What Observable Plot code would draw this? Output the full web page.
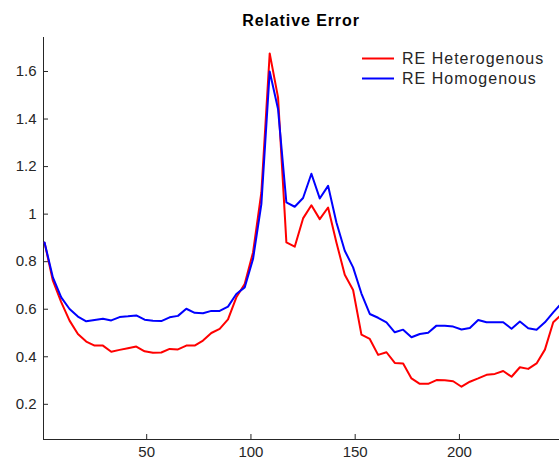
<!DOCTYPE html>
<html><head><meta charset="utf-8">
<script src="https://cdn.jsdelivr.net/npm/d3@7"></script>
<script src="https://cdn.jsdelivr.net/npm/@observablehq/plot@0.6"></script>
<style>
body{margin:0;background:#fff;}
#wrap{position:relative;width:559px;height:459px;font-family:"Liberation Sans",Arial,Helvetica,sans-serif;}
#overlay{position:absolute;left:0;top:0;pointer-events:none;}
</style></head><body><div id="wrap"></div>
<script>
const titleText = "Relative Error";
const seriesNames = ["RE Heterogenous", "RE Homogenous"];
const seriesColors = ["#ff0000", "#0000ff"];
const xTicks = [50, 100, 150, 200];
const yTicks = [0.2, 0.4, 0.6, 0.8, 1, 1.2, 1.4, 1.6];
const xs = [1,5,9,13,17,21,25,29,33,37,41,45,49,53,57,61,65,69,73,77,81,85,89,93,97,101,105,109,113,117,121,125,129,133,137,141,145,149,153,157,161,165,169,173,177,181,185,189,193,197,201,205,209,213,217,221,225,229,233,237,241,245,249];
const reHetero = [0.88,0.72,0.63,0.552,0.496,0.464,0.447,0.447,0.421,0.429,0.436,0.443,0.423,0.417,0.418,0.433,0.431,0.447,0.447,0.468,0.500,0.517,0.557,0.650,0.706,0.839,1.091,1.676,1.491,0.881,0.863,0.982,1.037,0.979,1.028,0.881,0.745,0.681,0.493,0.475,0.408,0.419,0.374,0.372,0.309,0.286,0.286,0.302,0.301,0.297,0.274,0.295,0.309,0.324,0.328,0.340,0.316,0.356,0.349,0.372,0.430,0.545,0.578];
const reHomo = [0.881,0.734,0.65,0.601,0.569,0.549,0.555,0.560,0.553,0.567,0.570,0.574,0.556,0.552,0.550,0.566,0.572,0.602,0.585,0.583,0.593,0.593,0.611,0.664,0.692,0.811,1.042,1.600,1.442,1.049,1.031,1.068,1.170,1.066,1.119,0.965,0.846,0.776,0.666,0.580,0.564,0.545,0.503,0.514,0.482,0.496,0.501,0.531,0.530,0.527,0.515,0.521,0.555,0.545,0.545,0.545,0.518,0.548,0.520,0.514,0.545,0.587,0.625];

const data = [];
const seriesValues = [reHetero, reHomo];
seriesNames.forEach((name, j) => {
  xs.forEach((x, i) => data.push({x, y: seriesValues[j][i], s: name}));
});

const axisColor = "#262626";
const xDomain = [0.5, 248];
const yDomain = [0.052, 1.743];
const plot = Plot.plot({
  width: 559, height: 459,
  marginLeft: 43, marginRight: 0, marginTop: 37, marginBottom: 20,
  style: {fontFamily: '"Liberation Sans", Arial, Helvetica, sans-serif', fontSize: "15px", color: axisColor, background: "white", overflow: "visible"},
  x: {domain: xDomain},
  y: {domain: yDomain},
  color: {domain: seriesNames, range: seriesColors},
  marks: [
    Plot.axisX({ticks: xTicks, tickSize: -5, tickPadding: 11.5, label: null, tickFormat: d => String(d)}),
    Plot.axisY({ticks: yTicks, tickSize: -5, tickPadding: 12, label: null, tickFormat: d => String(d)}),
    Plot.ruleX([xDomain[0]], {stroke: axisColor}),
    Plot.ruleY([yDomain[0]], {stroke: axisColor}),
    Plot.line(data, {x: "x", y: "y", z: "s", stroke: "s", strokeWidth: 2, clip: true})
  ]
});
const wrap = document.getElementById("wrap");
wrap.appendChild(plot);

// title and legend overlay
const ns = "http://www.w3.org/2000/svg";
const ov = document.createElementNS(ns, "svg");
ov.setAttribute("id", "overlay");
ov.setAttribute("width", 559); ov.setAttribute("height", 459);
const t = document.createElementNS(ns, "text");
t.setAttribute("x", 301); t.setAttribute("y", 26);
t.setAttribute("text-anchor", "middle");
t.setAttribute("font-weight", "bold");
t.setAttribute("font-size", "16px");
t.setAttribute("letter-spacing", "0.9px");
t.setAttribute("fill", "#000");
t.textContent = titleText;
ov.appendChild(t);
seriesNames.forEach((name, i) => {
  const ly = 58.5 + 20 * i;
  const l = document.createElementNS(ns, "line");
  l.setAttribute("x1", 362); l.setAttribute("x2", 394);
  l.setAttribute("y1", ly); l.setAttribute("y2", ly);
  l.setAttribute("stroke", seriesColors[i]); l.setAttribute("stroke-width", 2);
  ov.appendChild(l);
  const tx = document.createElementNS(ns, "text");
  tx.setAttribute("x", 402); tx.setAttribute("y", ly + 5);
  tx.setAttribute("font-size", "16px");
  tx.setAttribute("letter-spacing", "1px");
  tx.setAttribute("fill", axisColor);
  tx.textContent = name;
  ov.appendChild(tx);
});
wrap.appendChild(ov);
</script>
</body></html>
